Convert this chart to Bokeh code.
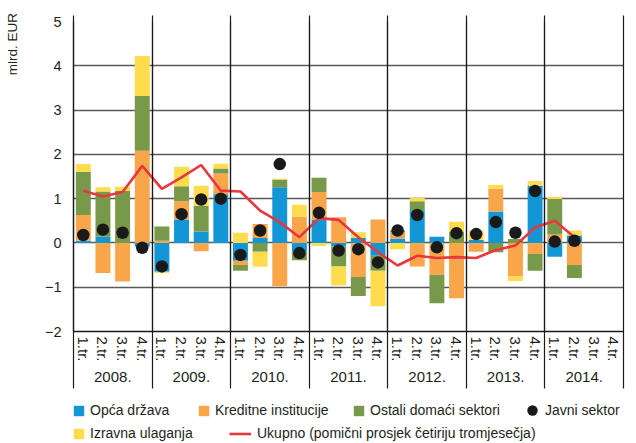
import numpy as np
from bokeh.plotting import figure
from bokeh.layouts import column
from bokeh.models import (Range1d, LinearAxis, FixedTicker, Grid, Legend, LegendItem)
from bokeh.embed import file_html
from bokeh.resources import INLINE

years = ["2008.", "2009.", "2010.", "2011.", "2012.", "2013.", "2014."]
quarters = ["1.tr.", "2.tr.", "3.tr.", "4.tr."]
y_ticks = [-2, -1, 0, 1, 2, 3, 4, 5]

# quarterly values 2008 Q1 .. 2014 Q2, mlrd. EUR
opca = [0.05, 0.14, 0.00, -0.08, -0.65, 0.53, 0.26, 1.10, -0.40, 0.11, 1.26, -0.20, 0.53,
        -0.08, 0.11, -0.29, 0.10, 0.74, 0.14, 0.00, 0.07, 0.71, 0.00, 1.29, -0.31, 0.17]
kreditne = [0.58, -0.68, -0.87, 2.08, 0.05, 0.41, -0.19, 0.47, -0.10, 0.32, -0.98, 0.59, 0.62,
            0.58, -0.77, 0.53, 0.14, -0.53, -0.72, -1.25, -0.20, 0.52, -0.76, -0.25, 0.19, -0.50]
ostali = [0.98, 1.02, 1.17, 1.24, 0.32, 0.34, 0.58, 0.11, -0.13, -0.20, 0.17, -0.19, 0.32,
          -0.45, -0.43, -0.34, 0.04, 0.20, -0.64, 0.26, 0.00, -0.21, 0.09, -0.38, 0.80, -0.29]
izravna = [0.17, 0.10, 0.10, 0.90, -0.03, 0.44, 0.45, 0.11, 0.23, -0.34, 0.02, 0.27, -0.07,
           -0.43, 0.13, -0.80, -0.14, 0.08, 0.00, 0.22, 0.21, 0.08, -0.10, 0.11, 0.05, 0.11]
javni = [0.18, 0.30, 0.23, -0.11, -0.53, 0.65, 0.98, 1.00, -0.27, 0.28, 1.78, -0.23, 0.68,
         -0.17, -0.14, -0.44, 0.28, 0.63, -0.10, 0.22, 0.20, 0.47, 0.23, 1.17, 0.03, 0.05]
ukupno = [1.18, 1.05, 1.15, 1.74, 1.22, 1.48, 1.76, 1.18, 1.16, 0.73, 0.47, 0.13, 0.56,
          0.52, 0.13, -0.21, -0.51, -0.29, -0.34, -0.32, -0.34, -0.16, -0.06, 0.35, 0.50, 0.13]

FONT = "Liberation Sans"
TXT = "#231f20"
C_BLUE, C_ORANGE, C_GREEN, C_YELLOW = "#1296d6", "#f9a54a", "#79994a", "#ffdc4d"
C_RED = "#e8373f"
C_DOT = "#1a1a1a"

series = [("Opća država", opca, C_BLUE), ("Kreditne institucije", kreditne, C_ORANGE),
          ("Ostali domaći sektori", ostali, C_GREEN), ("Izravna ulaganja", izravna, C_YELLOW)]

n_slots = len(years) * len(quarters)
n = len(opca)
xs = np.arange(n) + 0.5
bounds = list(range(0, n_slots + 1, 4))

W = 635
p = figure(width=W, height=394, x_range=Range1d(0, n_slots), y_range=Range1d(-2, 5),
           x_axis_type=None, y_axis_type=None, toolbar_location=None, output_backend="svg",
           min_border_left=73, min_border_right=12, min_border_top=21, min_border_bottom=63)
p.outline_line_color = None

# grids
p.add_layout(Grid(dimension=1, ticker=FixedTicker(ticks=y_ticks), grid_line_color="#5a5a5a",
                  grid_line_width=1.4))
p.add_layout(Grid(dimension=0, ticker=FixedTicker(ticks=bounds), grid_line_color="#1a1a1a",
                  grid_line_width=1.2))

# stacked bars (positive and negative parts stacked separately)
pos = np.zeros(n)
neg = np.zeros(n)
for name, vals, col in series:
    v = np.array(vals, dtype=float)
    bottom = np.where(v >= 0, pos, neg)
    top = bottom + v
    pos = np.where(v >= 0, top, pos)
    neg = np.where(v < 0, top, neg)
    p.vbar(x=xs, bottom=bottom, top=top, width=0.76, fill_color=col, line_color=None)

p.line(xs, ukupno, line_color=C_RED, line_width=2.6)
p.scatter(xs, javni, size=12.5, fill_color=C_DOT, line_color=None)

# y axis
yax = LinearAxis(ticker=FixedTicker(ticks=y_ticks),
                 major_label_overrides={t: (str(t).replace("-", "\u2212")) for t in y_ticks})
yax.major_tick_line_color = None
yax.major_tick_out = 0
yax.major_tick_in = 0
yax.minor_tick_line_color = None
yax.axis_line_color = "#1a1a1a"
yax.axis_line_width = 1.3
yax.major_label_standoff = 12
yax.major_label_text_font = FONT
yax.major_label_text_font_size = "14.5px"
yax.major_label_text_color = TXT
p.add_layout(yax, "left")

# unit title, placed near the top of the value axis
unit_pos = 4.49
tax = LinearAxis(ticker=FixedTicker(ticks=[unit_pos]), major_label_overrides={unit_pos: "mlrd. EUR"})
tax.major_label_orientation = "vertical"
tax.major_tick_line_color = None
tax.major_tick_out = 0
tax.major_tick_in = 0
tax.minor_tick_line_color = None
tax.axis_line_color = None
tax.major_label_standoff = 21
tax.major_label_text_font = FONT
tax.major_label_text_font_size = "13.5px"
tax.major_label_text_color = TXT
p.add_layout(tax, "left")

# quarter labels
q_ticks = [i + 0.5 for i in range(n_slots)]
qax = LinearAxis(ticker=FixedTicker(ticks=q_ticks),
                 major_label_overrides={t: quarters[i % 4] for i, t in enumerate(q_ticks)})
qax.major_label_orientation = "vertical"
qax.major_tick_in = 0
qax.major_tick_out = 0
qax.major_tick_line_color = None
qax.minor_tick_line_color = None
qax.axis_line_color = "#1a1a1a"
qax.axis_line_width = 1.6
qax.major_label_standoff = 5
qax.major_label_text_font = FONT
qax.major_label_text_font_size = "15px"
qax.major_label_text_color = TXT
p.add_layout(qax, "below")

# year labels
yr_ticks = [4 * i + 2 for i in range(len(years))]
yrax = LinearAxis(ticker=FixedTicker(ticks=yr_ticks),
                  major_label_overrides={t: years[i] for i, t in enumerate(yr_ticks)})
yrax.major_tick_line_color = None
yrax.major_tick_out = 0
yrax.major_tick_in = 0
yrax.minor_tick_line_color = None
yrax.axis_line_color = None
yrax.major_label_standoff = 7
yrax.major_label_text_font = FONT
yrax.major_label_text_font_size = "15px"
yrax.major_label_text_color = TXT
p.add_layout(yrax, "below")

# year separators: minor ticks pointing up from under the year labels through the frame
sax = LinearAxis(ticker=FixedTicker(ticks=[], minor_ticks=bounds))
sax.axis_line_color = None
sax.major_tick_line_color = None
sax.major_tick_in = 0
sax.major_tick_out = 0
sax.minor_tick_in = 369
sax.minor_tick_out = 4
sax.minor_tick_line_color = "#1a1a1a"
sax.minor_tick_line_width = 1.2
sax.major_label_standoff = 0
p.add_layout(sax, "below")

# legend strip (second figure, same styles, hidden proxy renderers)
H2 = 48
p2 = figure(width=W, height=H2, x_range=Range1d(0, W), y_range=Range1d(0, H2),
            x_axis_type=None, y_axis_type=None, toolbar_location=None, output_backend="svg",
            min_border=0)
p2.outline_line_color = None
p2.xgrid.visible = False
p2.ygrid.visible = False

proxy = {}
for name, vals, col in series:
    proxy[name] = p2.vbar(x=xs, top=vals, width=0.76, fill_color=col, line_color=None,
                          visible=False)
proxy["Ukupno (pomični prosjek četiriju tromjesečja)"] = p2.line(
    xs, ukupno, line_color=C_RED, line_width=2.6, visible=False)
proxy["Javni sektor"] = p2.scatter(xs, javni, size=12, fill_color=C_DOT, line_color=None,
                                   visible=False)

def add_leg(label, x, y, gw=13, gh=13, standoff=5):
    leg = Legend(items=[LegendItem(label=label, renderers=[proxy[label]])], location=(x, y),
                 orientation="horizontal", padding=0, margin=0, spacing=0,
                 border_line_color=None, background_fill_alpha=0,
                 inactive_fill_alpha=0, glyph_width=gw, glyph_height=gh, label_height=16,
                 label_standoff=standoff, label_text_font=FONT, label_text_font_size="14px",
                 label_text_color=TXT)
    p2.add_layout(leg)

add_leg("Opća država", -1, 24)
add_leg("Kreditne institucije", 124, 24)
add_leg("Ostali domaći sektori", 279, 24)
add_leg("Javni sektor", 446, 19, gw=26, gh=26, standoff=0)
add_leg("Izravna ulaganja", -1, 1)
add_leg("Ukupno (pomični prosjek četiriju tromjesečja)", 156, 1, gw=22, standoff=6)

open("out.html", "w").write(file_html(column(p, p2), INLINE))
